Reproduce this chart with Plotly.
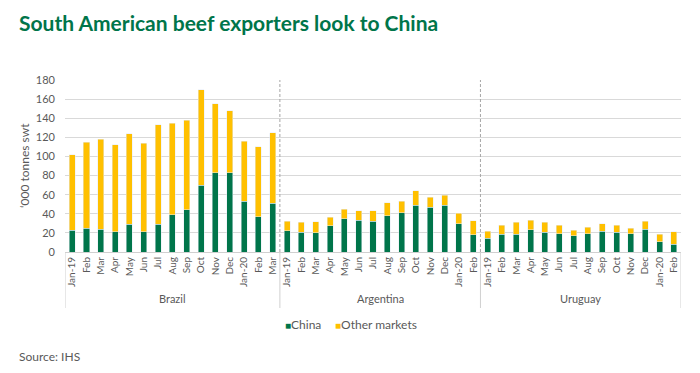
import plotly.graph_objects as go

months_b = ["Jan-19","Feb","Mar","Apr","May","Jun","Jul","Aug","Sep","Oct","Nov","Dec","Jan-20","Feb","Mar"]
months_a = ["Jan-19","Feb","Mar","Apr","May","Jun","Jul","Aug","Sep","Oct","Nov","Dec","Jan-20","Feb"]
months_u = ["Jan-19","Feb","Mar","Apr","May","Jun","Jul","Aug","Sep","Oct","Nov","Dec","Jan-20","Feb"]

brazil_total = [102,115,118,112,124,114,133,135,138,170,155,148,116,110,125]
brazil_china = [23,25,24,21,29,21,29,39,44,70,83,83,53,37,51]
argentina_total = [32,31,31.5,36.5,45,43,43,51.5,53,64,57.5,59.5,40.5,32.5]
argentina_china = [22.5,20.7,20.4,27.4,35,33.3,32.3,38.2,41,49,47,49,29.5,18.2]
uruguay_total = [21.8,28,31,33.3,31,28,22.8,26,29.8,28,25,32,18.6,21]
uruguay_china = [14.4,18.6,18.6,23.2,20.7,18.9,16.8,18.9,21.8,20.7,18.9,23.9,10.5,8.1]

groups = ["Brazil", "Argentina", "Uruguay"]
series_names = ["China", "Other markets"]

china = brazil_china + argentina_china + uruguay_china
totals = brazil_total + argentina_total + uruguay_total
other = [t - c for t, c in zip(totals, china)]
labels = months_b + months_a + months_u
xs = list(range(len(labels)))

GREEN = "#00754A"
YELLOW = "#FFC000"
GREY = "#595959"
FONT = "Lato"

fig = go.Figure()
fig.add_trace(go.Bar(x=xs, y=china, name=series_names[0], marker_color=GREEN, showlegend=False))
fig.add_trace(go.Bar(x=xs, y=other, name=series_names[1], marker_color=YELLOW, showlegend=False))

n = len(labels)
sizes = [len(months_b), len(months_a), len(months_u)]
bounds = [-0.5]
for s in sizes:
    bounds.append(bounds[-1] + s)

PH = 172.0  # plot height px
PW = 616.0  # plot width px

shapes = []
for i, b in enumerate(bounds):
    shapes.append(dict(type="line", xref="x", yref="paper", x0=b, x1=b, y0=0, y1=-56 / PH,
                       line=dict(color="#d0d0d0", width=1)))
    if 0 < i < len(bounds) - 1:
        shapes.append(dict(type="line", xref="x", yref="paper", x0=b, x1=b, y0=0, y1=1,
                           line=dict(color="#a6a6a6", width=1, dash="3px,2px")))

annotations = []
for i, g in enumerate(groups):
    annotations.append(dict(x=(bounds[i] + bounds[i + 1]) / 2, xref="x", y=-46 / PH, yref="paper",
                            text=g, showarrow=False, font=dict(family=FONT, size=11, color=GREY),
                            yanchor="middle"))
annotations.append(dict(text="South American beef exporters look to China", xref="paper", yref="paper",
                        x=-48 / PW, y=1 + 58 / PH, xanchor="left", yanchor="middle", showarrow=False,
                        font=dict(family=FONT, size=21, color=GREEN, weight="bold")))
annotations.append(dict(text="Source: IHS", xref="paper", yref="paper", x=-48 / PW, y=-104 / PH,
                        xanchor="left", yanchor="middle", showarrow=False,
                        font=dict(family=FONT, size=12, color=GREY)))
annotations.append(dict(text="\u2018000 tonnes swt", xref="paper", yref="paper", x=-41 / PW, y=0.5,
                        xanchor="center", yanchor="middle", textangle=-90, showarrow=False,
                        font=dict(family=FONT, size=12, color=GREY)))
# legend (manual, compact like the original)
for name, col, px in [(series_names[0], GREEN, 283), (series_names[1], YELLOW, 333)]:
    annotations.append(dict(text=f"<span style='color:{col};font-size:10px'>\u25A0</span>{name}",
                            xref="paper", yref="paper", x=(px - 65) / PW, y=-72 / PH,
                            xanchor="left", yanchor="middle", showarrow=False,
                            font=dict(family=FONT, size=12, color=GREY)))

# page has an 8px body margin: figure 692x365 placed at (8,8)
fig.update_layout(
    barmode="stack",
    bargap=0.58,
    width=692, height=365,
    margin=dict(l=57, r=19, t=72, b=121, autoexpand=False),
    paper_bgcolor="white", plot_bgcolor="white",
    font=dict(family=FONT, color=GREY),
    shapes=shapes,
    annotations=annotations,
    showlegend=False,
)
fig.update_xaxes(range=[-0.5, n - 0.5], tickmode="array", tickvals=xs, ticktext=labels,
                 tickangle=-90, tickfont=dict(family=FONT, size=10, color=GREY),
                 showgrid=False, showline=True, linecolor="#d0d0d0", ticks="", fixedrange=True)
fig.update_yaxes(range=[0, 180], dtick=20, showgrid=True, gridcolor="#d9d9d9",
                 tickfont=dict(family=FONT, size=11, color=GREY), zeroline=False,
                 ticklabelstandoff=9, ticks="", showline=False)

fig.write_html("out.html")
